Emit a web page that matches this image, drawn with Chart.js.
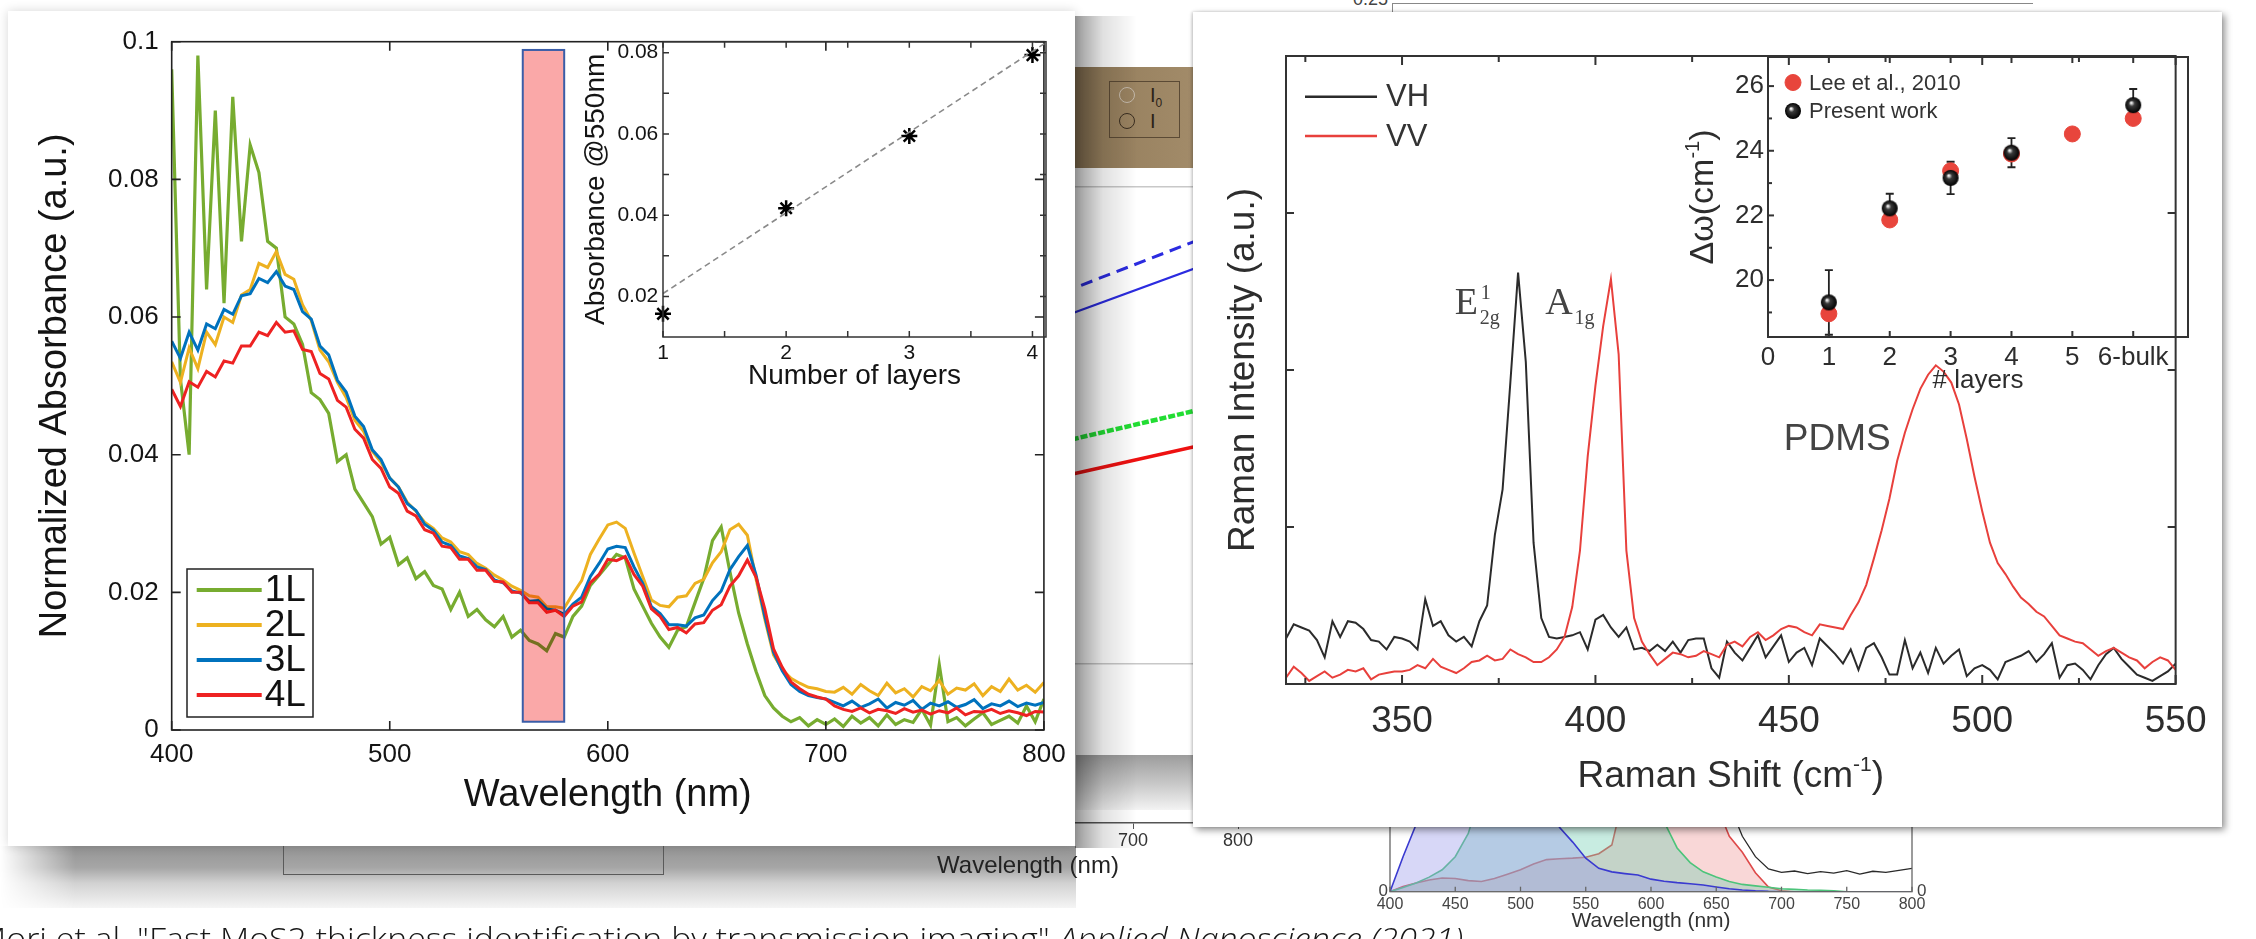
<!DOCTYPE html>
<html>
<head>
<meta charset="utf-8">
<title>MoS2 absorbance and Raman</title>
<script src="https://cdn.jsdelivr.net/npm/chart.js"></script>
<style>
  html, body { margin: 0; padding: 0; background: #fff; }
  #page { position: relative; width: 2256px; height: 939px; overflow: hidden; background: #fff;
          font-family: 'Liberation Sans', Arial, sans-serif; }
  canvas { position: absolute; }
  .abs { position: absolute; }
  #chartA { left: 700px; top: 150px; z-index: 2; }
  #chartB { left: 1300px; top: 560px; z-index: 2; }
  #brown { left: 990px; top: 67px; width: 203px; height: 101px; z-index: 2;
           background: linear-gradient(to right, #86704f, #a28b69); }
  #ioBox { position: absolute; left: 119px; top: 14px; width: 69px; height: 55px; border: 1.5px solid #5b4a35; }
  .ring { position: absolute; left: 9px; width: 14px; height: 14px; border-radius: 50%; }
  .io { position: absolute; left: 40px; font-size: 20px; line-height: 20px; color: #2b2218; }
  #gapBand { left: 1076px; top: 755px; width: 117px; height: 55px; z-index: 2;
             background: linear-gradient(to bottom, #9c9c9c, #c6c6c6 50%, #f3f3f3); }
  #topTick { left: 1342px; top: -11px; width: 46px; text-align: right; font-size: 18px; color: #444; z-index: 1; }
  #topFrame { left: 1392px; top: 3px; width: 640px; height: 30px; border-top: 1.5px solid #888;
              border-left: 1.5px solid #888; z-index: 1; }
  #leftBand { left: 0; top: 846px; width: 1076px; height: 62px; z-index: 1;
              background: linear-gradient(to bottom, #949494 0%, #a6a6a6 35%, #d2d2d2 60%, #f5f5f5 100%);
              -webkit-mask-image: linear-gradient(to right, transparent 0, #000 75px);
              mask-image: linear-gradient(to right, transparent 0, #000 75px); }
  #bracket { left: 283px; top: 846px; width: 379px; height: 28px; z-index: 2;
             border: 1.5px solid #5a5a5a; border-top: none; }
  #leftShadow { left: 1075px; top: 16px; width: 62px; height: 832px; z-index: 3;
                background: linear-gradient(to right, rgba(0,0,0,0.40), rgba(0,0,0,0.12) 45%, rgba(0,0,0,0)); }
  #leftCard { left: 8px; top: 11px; width: 1067px; height: 835px; background: #fff; z-index: 4;
              box-shadow: 0 0 10px rgba(0,0,0,0.16); }
  #rightCard { left: 1193px; top: 12px; width: 1029px; height: 815px; background: #fff; z-index: 4;
               box-shadow: 3px 3px 7px rgba(0,0,0,0.42), -1px 0 3px rgba(0,0,0,0.2); }
  #absChart { left: 0; top: 0; }
  #insetChart { left: 552px; top: 9px; }
  #ramanChart { left: 0; top: 0; }
  #layerChart { left: 447px; top: 18px; }
  #caption { left: -23px; top: 922px; z-index: 5; font-family: 'Open Sans', 'Lato', sans-serif; font-weight: 300;
             font-size: 32px; line-height: 1; white-space: nowrap; color: #161616; transform-origin: 0 0; }
</style>
</head>
<body>
<div id="page">
  <div id="topTick" class="abs">0.25</div>
  <div id="topFrame" class="abs"></div>
  <div id="leftBand" class="abs"></div>
  <div id="bracket" class="abs"></div>
  <canvas id="chartA" width="600" height="740"></canvas>
  <div id="brown" class="abs">
    <div id="ioBox">
      <span class="ring" style="top:5px;border:1.5px solid #c4b9aa"></span>
      <span class="io" style="top:3px">I<sub style="font-size:12px">0</sub></span>
      <span class="ring" style="top:31px;border:1.5px solid #3a2e20"></span>
      <span class="io" style="top:29px">I</span>
    </div>
  </div>
  <div id="gapBand" class="abs"></div>
  <canvas id="chartB" width="680" height="379"></canvas>
  <div id="leftShadow" class="abs"></div>
  <div id="leftCard" class="abs">
    <canvas id="absChart" width="1067" height="835"></canvas>
    <canvas id="insetChart" width="520" height="390"></canvas>
  </div>
  <div id="rightCard" class="abs">
    <canvas id="ramanChart" width="1029" height="815"></canvas>
    <canvas id="layerChart" width="580" height="380"></canvas>
  </div>
  <div id="caption" class="abs">Mori et al. "Fast MoS2 thickness identification by transmission imaging" <i>Applied Nanoscience (2021)</i></div>
</div>
<script>
// ---------- absorbance spectra (left panel) ----------
const wavelength = [
  400,404,408,412,416,420,424,428,432,436,
  440,444,448,452,456,460,464,468,472,476,
  480,484,488,492,496,500,504,508,512,516,
  520,524,528,532,536,540,544,548,552,556,
  560,564,568,572,576,580,584,588,592,596,
  600,604,608,612,616,620,624,628,632,636,
  640,644,648,652,656,660,664,668,672,676,
  680,684,688,692,696,700,704,708,712,716,
  720,724,728,732,736,740,744,748,752,756,
  760,764,768,772,776,780,784,788,792,796,
  800];
const abs1L = [
  .096,.051,.040,.098,.064,.090,.062,.092,.071,.085,
  .081,.071,.070,.060,.059,.056,.049,.048,.046,.039,
  .040,.035,.033,.031,.027,.028,.024,.025,.022,.023,
  .021,.0205,.0175,.020,.0165,.0175,.016,.015,.0165,.0135,
  .0145,.013,.0125,.0115,.014,.0135,.0165,.018,.021,.0225,
  .024,.0255,.025,.0205,.018,.0155,.0135,.012,.0145,.015,
  .0185,.022,.0275,.0295,.023,.017,.0125,.0085,.005,.0032,
  .002,.0012,.0018,.0006,.0015,.0008,.0016,.0005,.002,.001,
  .0018,.0006,.0022,.0008,.0015,.0011,.003,.0007,.0095,.0012,
  .0018,.0006,.0016,.0025,.0008,.0014,.002,.001,.0035,.0012,
  .0045];
const abs2L = [
  .0535,.0505,.0555,.0525,.0578,.0560,.0600,.0592,.0632,.0640,
  .0678,.0672,.0695,.0662,.0655,.0618,.0595,.0552,.0535,.0505,
  .0483,.0450,.0434,.0405,.0389,.0366,.0353,.0331,.0318,.0302,
  .0293,.0279,.0273,.0259,.0255,.0242,.0235,.0225,.0218,.0209,
  .0203,.0195,.0193,.0179,.0179,.0177,.0198,.0217,.0255,.0277,
  .0298,.0302,.0293,.0257,.0223,.0189,.0181,.0179,.0193,.0195,
  .0213,.0219,.0243,.0259,.0291,.0299,.0283,.0219,.0161,.0109,
  .0088,.0075,.0068,.0062,.0060,.0056,.0055,.0062,.0052,.0066,
  .0057,.0050,.0068,.0054,.0060,.0048,.0063,.0057,.0072,.0052,
  .0061,.0058,.0067,.0050,.0063,.0056,.0074,.0058,.0065,.0055,
  .0069];
const abs3L = [
  .0565,.0540,.0578,.0552,.0590,.0583,.0611,.0604,.0631,.0634,
  .0656,.0650,.0666,.0645,.0640,.0608,.0597,.0558,.0545,.0508,
  .0491,.0456,.0441,.0407,.0393,.0366,.0353,.0329,.0319,.0299,
  .0290,.0273,.0268,.0253,.0249,.0237,.0233,.0218,.0214,.0202,
  .0199,.0187,.0188,.0176,.0174,.0168,.0183,.0193,.0223,.0242,
  .0263,.0267,.0265,.0237,.0213,.0179,.0169,.0153,.0153,.0151,
  .0163,.0167,.0188,.0202,.0233,.0252,.0268,.0225,.0165,.0113,
  .0086,.0066,.0056,.0050,.0047,.0045,.0040,.0035,.0042,.0033,
  .0038,.0045,.0032,.0040,.0036,.0043,.0030,.0039,.0035,.0041,
  .0033,.0037,.0044,.0031,.0038,.0035,.0042,.0034,.0039,.0036,
  .0040];
const abs4L = [
  .0495,.0470,.0506,.0498,.0521,.0513,.0536,.0533,.0558,.0558,
  .0578,.0573,.0592,.0578,.0580,.0553,.0550,.0518,.0510,.0479,
  .0469,.0437,.0424,.0393,.0380,.0353,.0344,.0318,.0311,.0291,
  .0286,.0267,.0265,.0248,.0248,.0232,.0232,.0216,.0215,.0200,
  .0200,.0185,.0185,.0171,.0174,.0165,.0180,.0186,.0214,.0226,
  .0248,.0246,.0252,.0226,.0209,.0176,.0165,.0146,.0149,.0141,
  .0154,.0156,.0174,.0182,.0209,.0224,.0247,.0222,.0176,.0118,
  .0091,.0070,.0060,.0052,.0048,.0045,.0035,.0030,.0027,.0032,
  .0025,.0030,.0028,.0024,.0031,.0026,.0029,.0023,.0028,.0025,
  .0032,.0022,.0027,.0026,.0030,.0024,.0028,.0025,.0021,.0027,
  .0026];
const absXTicks = [400, 500, 600, 700, 800];
const absYTicks = [0, 0.02, 0.04, 0.06, 0.08, 0.1];
const bandRange = [561, 580];          // highlighted 550 nm window
const bandLevels = [0.0012, 0.0988];

// inset: absorbance at 550 nm vs layers
const layerCount = [1, 2, 3, 4];
const abs550 = [0.0157, 0.0417, 0.0595, 0.0794];
const fitX = [1, 4.11];
const fitY = [0.0207, 0.0825];
const insetXTicks = [1, 1.5, 2, 2.5, 3, 3.5, 4];
const insetYTicks = [0.02, 0.03, 0.04, 0.05, 0.06, 0.07, 0.08];

// ---------- Raman spectra (right panel) ----------
const ramanShift = [
  320,322,324,326,328,330,332,334,336,338,
  340,342,344,346,348,350,352,354,356,358,
  360,362,364,366,368,370,372,374,376,378,
  380,382,384,386,388,390,392,394,396,398,
  400,402,404,406,408,410,412,414,416,418,
  420,422,424,426,428,430,432,434,436,438,
  440,442,444,446,448,450,452,454,456,458,
  460,462,464,466,468,470,472,474,476,478,
  480,482,484,486,488,490,492,494,496,498,
  500,502,504,506,508,510,512,514,516,518,
  520,522,524,526,528,530,532,534,536,538,
  540,542,544,546,548,550];
const ramanVH = [
  0.29,0.38,0.36,0.34,0.28,0.17,0.40,0.30,0.40,0.39,
  0.35,0.28,0.27,0.22,0.30,0.29,0.27,0.22,0.54,0.37,
  0.40,0.31,0.27,0.30,0.24,0.40,0.50,0.95,1.24,1.92,
  2.62,2.05,0.90,0.42,0.30,0.29,0.30,0.31,0.33,0.22,
  0.41,0.44,0.36,0.30,0.36,0.22,0.23,0.21,0.25,0.21,
  0.27,0.20,0.28,0.29,0.29,0.10,0.04,0.27,0.20,0.15,
  0.23,0.31,0.17,0.24,0.31,0.14,0.20,0.23,0.12,0.29,
  0.24,0.19,0.13,0.22,0.09,0.23,0.26,0.17,0.06,0.06,
  0.28,0.10,0.20,0.07,0.23,0.13,0.18,0.22,0.05,0.10,
  0.12,0.09,0.03,0.14,0.16,0.18,0.21,0.14,0.19,0.26,
  0.04,0.12,0.13,0.09,0.03,0.12,0.19,0.23,0.16,0.11,
  0.06,0.04,0.02,0.05,0.08,0.13];
const ramanVV = [
  0.04,0.11,0.07,0.02,0.05,0.08,0.04,0.06,0.09,0.08,
  0.10,0.03,0.06,0.07,0.08,0.08,0.09,0.12,0.10,0.16,
  0.11,0.09,0.07,0.10,0.14,0.15,0.18,0.15,0.16,0.22,
  0.19,0.17,0.14,0.14,0.17,0.22,0.30,0.49,0.85,1.45,
  1.90,2.28,2.58,2.10,0.85,0.42,0.27,0.19,0.12,0.16,
  0.20,0.19,0.17,0.18,0.21,0.19,0.17,0.25,0.27,0.24,
  0.30,0.33,0.28,0.31,0.35,0.37,0.36,0.33,0.31,0.38,
  0.37,0.36,0.35,0.44,0.52,0.63,0.80,0.98,1.18,1.42,
  1.60,1.75,1.88,1.97,2.03,1.99,1.92,1.78,1.56,1.32,
  1.10,0.90,0.77,0.70,0.62,0.55,0.51,0.46,0.43,0.37,
  0.31,0.29,0.27,0.26,0.22,0.18,0.21,0.23,0.20,0.17,
  0.15,0.10,0.14,0.17,0.15,0.09];
const ramanXTicks = [325,350,375,400,425,450,475,500,525,550];
const ramanYTicks = [0, 1, 2, 3, 4];

// inset: peak separation vs number of layers
const leeLayers = [1, 2, 3, 4, 5, 6];
const leeShift = [18.96, 21.86, 23.38, 23.90, 24.52, 25.00];
const ownLayers = [1, 2, 3, 4, 6];
const ownShift = [19.31, 22.22, 23.16, 23.94, 25.41];
const ownErr = [1.0, 0.45, 0.5, 0.45, 0.5];
const layerXTicks = [0, 1, 2, 3, 4, 5, 6];
const layerXLabels = ['0', '1', '2', '3', '4', '5', '6-bulk'];
const layerYTicks = [19, 20, 21, 22, 23, 24, 25, 26];

// ---------- background figures peeking between the panels ----------
const bgLambda = [600, 800];
const bgBlueDash = [0.813, 0.941];
const bgBlue = [0.776, 0.897];
const bgGreenDash = [0.587, 0.664];
const bgRed = [0.533, 0.607];
const bgXTicks = [400, 500, 600, 700, 800];
const bgGridLevels = [0.25, 1];

const specLambda = [
  400,410,420,430,440,450,460,470,480,490,
  500,510,520,530,540,550,560,570,580,590,
  600,610,620,630,640,650,660,670,680,690,
  700,710,720,730,740,750,760,770,780,790,800];
const specBlue = [
  0,0.12,0.23,0.40,0.60,0.80,0.90,0.95,0.90,0.80,
  0.62,0.45,0.30,0.22,0.17,0.115,0.08,0.068,0.062,0.057,
  0.043,0.036,0.031,0.027,0.023,0.016,0.010,0.006,0.003,0.001,
  0,0,0,0,0,0,0,0,0,0,0];
const specGreen = [
  0,0.014,0.03,0.05,0.075,0.12,0.20,0.35,0.55,0.75,
  0.90,0.98,1.0,0.97,0.90,0.80,0.65,0.50,0.40,0.33,
  0.28,0.24,0.15,0.10,0.068,0.05,0.035,0.025,0.02,0.015,
  0.01,0.008,0.006,0.005,0.003,0,0,0,0,0,0];
const specRed = [
  0,0.018,0.03,0.04,0.047,0.045,0.038,0.035,0.045,0.06,
  0.075,0.095,0.11,0.113,0.115,0.118,0.13,0.16,0.35,0.55,
  0.70,0.80,0.82,0.75,0.55,0.30,0.19,0.135,0.065,0.016,
  0.003,0,0,0,0,0,0,0,0,0,0];
const specLamp = [
  0.55,0.60,0.62,0.65,0.66,0.68,0.70,0.70,0.72,0.72,
  0.74,0.75,0.76,0.78,0.78,0.80,0.80,0.82,0.80,0.78,
  0.70,0.65,0.58,0.52,0.45,0.38,0.30,0.19,0.12,0.078,
  0.066,0.071,0.062,0.069,0.064,0.072,0.060,0.070,0.066,0.073,0.080];
const specXTicks = [400,450,500,550,600,650,700,750,800];

// ---------- setup ----------
const SANS = "'Liberation Sans', 'DejaVu Sans', Arial, sans-serif";
const SERIF = "'Liberation Serif', 'DejaVu Serif', serif";
Chart.defaults.font.family = SANS;
Chart.defaults.color = '#141414';
Chart.defaults.animation = false;
Chart.defaults.responsive = false;
Chart.defaults.devicePixelRatio = 1;
Chart.defaults.plugins.legend.display = false;
Chart.defaults.plugins.tooltip.enabled = false;
Chart.defaults.elements.point.radius = 0;
Chart.defaults.elements.line.tension = 0;

const pts = (xs, ys) => xs.map((x, i) => ({x: x, y: ys[i]}));
const fixTicks = vals => s => { s.ticks = vals.map(v => ({value: v})); };
const quiet = {display: false, drawTicks: false};

// box around the plot with inward tick marks (MATLAB style)
const framePlugin = {
  id: 'frame',
  afterDraw(chart, args, o) {
    if (!o || !o.ticks) return;
    const ctx = chart.ctx, a = chart.chartArea;
    ctx.save();
    ctx.strokeStyle = o.color || '#222';
    ctx.lineWidth = o.width || 1.5;
    Object.keys(o.ticks).forEach(id => {
      const s = chart.scales[id], t = o.ticks[id];
      s.ticks.forEach(tk => {
        const big = tk.label !== '' && tk.label != null;
        const len = big ? t.major : t.minor;
        const p = s.getPixelForValue(tk.value);
        ctx.beginPath();
        if (s.isHorizontal()) {
          ctx.moveTo(p, a.bottom); ctx.lineTo(p, a.bottom - len);
          if (t.mirror) { ctx.moveTo(p, a.top); ctx.lineTo(p, a.top + len); }
        } else {
          ctx.moveTo(a.left, p); ctx.lineTo(a.left + len, p);
          if (t.mirror) { ctx.moveTo(a.right, p); ctx.lineTo(a.right - len, p); }
        }
        ctx.stroke();
      });
    });
    if (o.box !== false) ctx.strokeRect(a.left, a.top, a.right - a.left, a.bottom - a.top);
    ctx.restore();
  }
};

// axis titles that need a real superscript, e.g. cm^-1
const supTitlePlugin = {
  id: 'supTitle',
  afterDraw(chart, args, o) {
    if (!o || !o.items) return;
    const ctx = chart.ctx, a = chart.chartArea;
    o.items.forEach(it => {
      const s = chart.scales[it.scale];
      let cx, cy, rot = 0;
      if (s.isHorizontal()) { cx = (a.left + a.right) / 2; cy = s.bottom - it.offset; }
      else { cx = s.left + it.offset; cy = (a.top + a.bottom) / 2; rot = -Math.PI / 2; }
      const big = it.size + 'px ' + SANS, small = Math.round(it.size * 0.58) + 'px ' + SANS;
      ctx.save();
      ctx.translate(cx, cy); ctx.rotate(rot);
      let w = 0;
      it.runs.forEach(r => { ctx.font = r.sup ? small : big; w += ctx.measureText(r.t).width; });
      let x = -w / 2;
      ctx.fillStyle = it.color; ctx.textBaseline = 'middle';
      it.runs.forEach(r => {
        ctx.font = r.sup ? small : big;
        ctx.fillText(r.t, x, r.sup ? -it.size * 0.3 : 0);
        x += ctx.measureText(r.t).width;
      });
      ctx.restore();
    });
  }
};

// translucent pink window drawn over the spectra
const bandPlugin = {
  id: 'band',
  afterDatasetsDraw(chart, args, o) {
    if (!o || !o.range) return;
    const ctx = chart.ctx, xs = chart.scales.x, ys = chart.scales.y;
    const x0 = xs.getPixelForValue(o.range[0]), x1 = xs.getPixelForValue(o.range[1]);
    const y0 = ys.getPixelForValue(o.levels[1]), y1 = ys.getPixelForValue(o.levels[0]);
    ctx.save();
    ctx.globalCompositeOperation = 'multiply';
    ctx.fillStyle = o.fill;
    ctx.fillRect(x0, y0, x1 - x0, y1 - y0);
    ctx.globalCompositeOperation = 'source-over';
    ctx.strokeStyle = o.border; ctx.lineWidth = 2;
    ctx.strokeRect(x0, y0, x1 - x0, y1 - y0);
    ctx.restore();
  }
};

// line-sample legend placed inside the plot
const lineKeyPlugin = {
  id: 'lineKey',
  afterDraw(chart, args, o) {
    if (!o || !o.rowY) return;
    const ctx = chart.ctx, a = chart.chartArea;
    ctx.save();
    if (o.box) {
      ctx.fillStyle = '#fff';
      ctx.fillRect(a.left + o.box[0], a.top + o.box[1], o.box[2], o.box[3]);
      ctx.strokeStyle = '#222'; ctx.lineWidth = 1.5;
      ctx.strokeRect(a.left + o.box[0], a.top + o.box[1], o.box[2], o.box[3]);
    }
    ctx.font = o.size + 'px ' + SANS;
    ctx.textBaseline = 'middle';
    chart.data.datasets.forEach((d, i) => {
      const y = a.top + o.rowY + i * o.rowGap;
      ctx.strokeStyle = d.borderColor; ctx.lineWidth = o.lineWidth;
      ctx.beginPath(); ctx.moveTo(a.left + o.lineX[0], y); ctx.lineTo(a.left + o.lineX[1], y); ctx.stroke();
      ctx.fillStyle = o.textColor;
      ctx.fillText(d.label, a.left + o.textX, y + 1);
    });
    ctx.restore();
  }
};

// marker legend (inset of the right panel)
const markKeyPlugin = {
  id: 'markKey',
  afterDraw(chart, args, o) {
    if (!o || !o.rowY) return;
    const ctx = chart.ctx, a = chart.chartArea;
    ctx.save();
    ctx.font = o.size + 'px ' + SANS;
    ctx.textBaseline = 'middle';
    chart.data.datasets.forEach((d, i) => {
      const y = a.top + o.rowY + i * o.rowGap;
      ctx.fillStyle = d.backgroundColor; ctx.strokeStyle = d.borderColor;
      Chart.helpers.drawPoint(ctx, {pointStyle: d.pointStyle, radius: d.pointRadius, borderWidth: 1, rotation: 0},
                              a.left + o.markX, y);
      ctx.fillStyle = o.textColor;
      ctx.fillText(d.label, a.left + o.textX, y + 1);
    });
    ctx.restore();
  }
};

const errorPlugin = {
  id: 'errorBars',
  beforeDatasetsDraw(chart, args, o) {
    if (!o || !o.err) return;
    const ctx = chart.ctx, xs = chart.scales.x, ys = chart.scales.y;
    const d = chart.data.datasets[o.dataset];
    ctx.save(); ctx.strokeStyle = o.color; ctx.lineWidth = 1.8;
    d.data.forEach((p, i) => {
      const x = xs.getPixelForValue(p.x);
      const lo = ys.getPixelForValue(p.y - o.err[i]), hi = ys.getPixelForValue(p.y + o.err[i]);
      ctx.beginPath();
      ctx.moveTo(x, lo); ctx.lineTo(x, hi);
      ctx.moveTo(x - 4, lo); ctx.lineTo(x + 4, lo);
      ctx.moveTo(x - 4, hi); ctx.lineTo(x + 4, hi);
      ctx.stroke();
    });
    ctx.restore();
  }
};

// peak names written at data coordinates
const peakTextPlugin = {
  id: 'peakText',
  afterDatasetsDraw(chart, args, o) {
    if (!o || !o.items) return;
    const ctx = chart.ctx, xs = chart.scales.x, ys = chart.scales.y;
    ctx.save(); ctx.fillStyle = o.color; ctx.textBaseline = 'alphabetic';
    o.items.forEach(it => {
      let x = xs.getPixelForValue(it.x);
      const y = ys.getPixelForValue(it.y);
      ctx.font = it.font;
      ctx.fillText(it.main, x, y);
      x += ctx.measureText(it.main).width + 2;
      ctx.font = o.smallFont;
      if (it.sup) ctx.fillText(it.sup, x + 1, y - 15);
      if (it.sub) ctx.fillText(it.sub, x, y + 10);
    });
    ctx.restore();
  }
};

function sphere(r) {
  const c = document.createElement('canvas');
  c.width = c.height = 2 * r + 2;
  const g = c.getContext('2d');
  const grad = g.createRadialGradient(r + 1 - r * 0.25, r + 1 - r * 0.3, r * 0.08, r + 1, r + 1, r);
  grad.addColorStop(0, '#f2f2f2'); grad.addColorStop(0.3, '#3a3a3a'); grad.addColorStop(1, '#000');
  g.fillStyle = grad;
  g.beginPath(); g.arc(r + 1, r + 1, r, 0, Math.PI * 2); g.fill();
  return c;
}

// ---------- left panel: absorbance ----------
new Chart(document.getElementById('absChart'), {
  type: 'line',
  data: {datasets: [
    {label: '1L', data: pts(wavelength, abs1L), borderColor: '#77AC30', borderWidth: 3.2, order: 3},
    {label: '2L', data: pts(wavelength, abs2L), borderColor: '#EDB120', borderWidth: 3, order: 2},
    {label: '3L', data: pts(wavelength, abs3L), borderColor: '#0072BD', borderWidth: 3, order: 1},
    {label: '4L', data: pts(wavelength, abs4L), borderColor: '#EE2222', borderWidth: 3, order: 0}
  ]},
  options: {
    layout: {padding: {left: 0, right: 30, top: 30.7, bottom: 0}},
    scales: {
      x: {type: 'linear', min: 400, max: 800, afterBuildTicks: fixTicks(absXTicks),
          afterFit: s => { s.height = 116; }, grid: quiet, border: {display: false},
          ticks: {font: {size: 26}, padding: 9.4, autoSkip: false, maxRotation: 0, callback: v => String(v)},
          title: {display: true, text: 'Wavelength (nm)', font: {size: 38}, padding: {top: 0, bottom: 27.2}}},
      y: {type: 'linear', min: 0, max: 0.1, afterBuildTicks: fixTicks(absYTicks),
          afterFit: s => { s.width = 163.7; }, grid: quiet, border: {display: false},
          ticks: {font: {size: 26}, padding: 13, autoSkip: false,
                  callback: v => v === 0 ? '0' : (Math.abs(v - 0.1) < 1e-9 ? '0.1' : v.toFixed(2))},
          title: {display: true, text: 'Normalized Absorbance (a.u.)', font: {size: 38}, padding: {top: 25.2, bottom: 0}}}
    },
    plugins: {
      frame: {color: '#222', width: 1.6, ticks: {x: {major: 9, minor: 5, mirror: true}, y: {major: 9, minor: 5, mirror: true}}},
      band: {range: bandRange, levels: bandLevels, fill: 'rgb(250,168,168)', border: '#3A5DA8'},
      lineKey: {box: [15.3, 527.3, 126, 148], rowY: 548.3, rowGap: 35, lineX: [25, 90], lineWidth: 4,
                textX: 93, size: 37, textColor: '#111'}
    }
  },
  plugins: [bandPlugin, framePlugin, lineKeyPlugin]
});

new Chart(document.getElementById('insetChart'), {
  type: 'line',
  data: {datasets: [
    {data: pts(fitX, fitY), borderColor: '#8a8a8a', borderWidth: 1.6, borderDash: [6, 4], pointRadius: 0},
    {data: pts(layerCount, abs550), showLine: false, pointStyle: 'star', pointRadius: 8, clip: false,
     borderColor: '#000', backgroundColor: '#000', borderWidth: 2.5}
  ]},
  options: {
    layout: {padding: {left: 0, right: 34, top: 21.7, bottom: 0}},
    scales: {
      x: {type: 'linear', min: 1, max: 4.11, afterBuildTicks: fixTicks(insetXTicks),
          afterFit: s => { s.height = 73; }, grid: quiet, border: {display: false},
          ticks: {font: {size: 21}, padding: 3.4, autoSkip: false, maxRotation: 0,
                  callback: v => Number.isInteger(v) ? String(v) : ''},
          title: {display: true, text: 'Number of layers', font: {size: 28}, padding: {top: 0, bottom: 16.5}}},
      y: {type: 'linear', min: 0.01, max: 0.0827, afterBuildTicks: fixTicks(insetYTicks),
          afterFit: s => { s.width = 103; }, grid: quiet, border: {display: false},
          ticks: {font: {size: 21}, padding: 4.7, autoSkip: false,
                  callback: v => Math.round(v * 100) % 2 === 0 ? v.toFixed(2) : ''},
          title: {display: true, text: 'Absorbance @550nm', font: {size: 28}, padding: {top: 19.2, bottom: 0}}}
    },
    plugins: {frame: {color: '#333', width: 1.5, ticks: {x: {major: 6, minor: 6, mirror: true}, y: {major: 6, minor: 6, mirror: true}}}}
  },
  plugins: [framePlugin]
});

// ---------- right panel: Raman ----------
new Chart(document.getElementById('ramanChart'), {
  type: 'line',
  data: {datasets: [
    {label: 'VH', data: pts(ramanShift, ramanVH), borderColor: '#2b2b2b', borderWidth: 2, order: 1},
    {label: 'VV', data: pts(ramanShift, ramanVV), borderColor: '#E8403C', borderWidth: 2, order: 0}
  ]},
  options: {
    layout: {padding: {left: 0, right: 36, top: 44, bottom: 0}},
    scales: {
      x: {type: 'linear', min: 320, max: 550, afterBuildTicks: fixTicks(ramanXTicks),
          afterFit: s => { s.height = 143; }, grid: quiet, border: {display: false},
          ticks: {font: {size: 37}, color: '#2d2d2d', padding: 15.5, autoSkip: false, maxRotation: 0,
                  callback: v => v % 50 === 0 ? String(v) : ''},
          title: {display: false}},
      y: {type: 'linear', min: 0, max: 4, afterBuildTicks: fixTicks(ramanYTicks),
          afterFit: s => { s.width = 93; }, grid: quiet, border: {display: false},
          ticks: {font: {size: 12}, padding: 0, callback: () => ''},
          title: {display: true, text: 'Raman Intensity (a.u.)', color: '#2d2d2d', font: {size: 37}, padding: {top: 28.3, bottom: 0}}}
    },
    plugins: {
      frame: {color: '#333', width: 2, ticks: {x: {major: 9, minor: 6, mirror: true}, y: {major: 8, minor: 8, mirror: true}}},
      supTitle: {items: [{scale: 'x', offset: 50.3, size: 37, color: '#2d2d2d',
                          runs: [{t: 'Raman Shift (cm'}, {t: '-1', sup: true}, {t: ')'}]}]},
      lineKey: {rowY: 40.7, rowGap: 39.3, lineX: [19, 91], lineWidth: 2.5, textX: 100, size: 31, textColor: '#333'},
      peakText: {color: '#444', smallFont: '20px ' + SERIF, items: [
        {x: 363.6, y: 2.354, main: 'E', sup: '1', sub: '2g', font: '38px ' + SERIF},
        {x: 387.0, y: 2.354, main: 'A', sub: '1g', font: '38px ' + SERIF},
        {x: 448.7, y: 1.49, main: 'PDMS', font: '37px ' + SANS}
      ]}
    }
  },
  plugins: [framePlugin, supTitlePlugin, lineKeyPlugin, peakTextPlugin]
});

new Chart(document.getElementById('layerChart'), {
  type: 'line',
  data: {datasets: [
    {label: 'Lee et al., 2010', data: pts(leeLayers, leeShift), showLine: false, pointStyle: 'circle',
     pointRadius: 8, backgroundColor: '#E8453C', borderColor: '#E8453C', order: 1},
    {label: 'Present work', data: pts(ownLayers, ownShift), showLine: false, pointStyle: sphere(8),
     pointRadius: 8, backgroundColor: '#000', borderColor: '#000', order: 0}
  ]},
  options: {
    layout: {padding: {left: 0, right: 32, top: 27, bottom: 0}},
    scales: {
      x: {type: 'linear', min: 0, max: 6.9, afterBuildTicks: fixTicks(layerXTicks),
          afterFit: s => { s.height = 73; }, grid: quiet, border: {display: false},
          ticks: {font: {size: 26}, color: '#2d2d2d', padding: 4.9, autoSkip: false, maxRotation: 0,
                  callback: (v, i) => layerXLabels[i]},
          title: {display: true, text: '# layers', color: '#2d2d2d', font: {size: 26}, padding: {top: 0, bottom: 13.7}}},
      y: {type: 'linear', min: 18.24, max: 26.9, afterBuildTicks: fixTicks(layerYTicks),
          afterFit: s => { s.width = 128; }, grid: quiet, border: {display: false},
          ticks: {font: {size: 26}, color: '#2d2d2d', padding: 4, autoSkip: false,
                  callback: v => v % 2 === 0 ? String(v) : ''},
          title: {display: false}}
    },
    plugins: {
      frame: {color: '#333', width: 2, ticks: {x: {major: 6, minor: 4, mirror: true}, y: {major: 6, minor: 4, mirror: false}}},
      supTitle: {items: [{scale: 'y', offset: 63.6, size: 34, color: '#2d2d2d',
                          runs: [{t: 'Δω(cm'}, {t: '-1', sup: true}, {t: ')'}]}]},
      errorBars: {dataset: 1, err: ownErr, color: '#222'},
      markKey: {rowY: 25.5, rowGap: 28.5, markX: 25, textX: 41, size: 22, textColor: '#333'}
    }
  },
  plugins: [framePlugin, supTitlePlugin, errorPlugin, markKeyPlugin]
});

// ---------- background figures ----------
new Chart(document.getElementById('chartA'), {
  type: 'line',
  data: {datasets: [
    {data: pts(bgLambda, bgBlueDash), borderColor: '#2B2BE0', borderWidth: 3, borderDash: [12, 7]},
    {data: pts(bgLambda, bgBlue), borderColor: '#2B2BE0', borderWidth: 2.2},
    {data: pts(bgLambda, bgGreenDash), borderColor: '#22DD33', borderWidth: 4.5, borderDash: [7, 2]},
    {data: pts(bgLambda, bgRed), borderColor: '#EE1111', borderWidth: 3.5}
  ]},
  options: {
    layout: {padding: {left: 118, right: 62, top: 37, bottom: 0}},
    scales: {
      x: {type: 'linear', min: 400, max: 800, afterBuildTicks: fixTicks(bgXTicks),
          afterFit: s => { s.height = 67; },
          grid: {display: true, drawOnChartArea: false, drawTicks: true, tickLength: 6, color: '#555'},
          border: {display: true, color: '#555', width: 1.5},
          ticks: {font: {size: 18}, color: '#333', padding: 1, autoSkip: false, maxRotation: 0},
          title: {display: true, text: 'Wavelength (nm)', color: '#222', font: {size: 24}, padding: {top: 0, bottom: 9.6}}},
      y: {type: 'linear', min: 0, max: 1, afterBuildTicks: fixTicks(bgGridLevels),
          afterFit: s => { s.width = 0; },
          grid: {display: true, drawTicks: false, color: '#c8c8c8', lineWidth: 1.5},
          border: {display: false}, ticks: {display: false}}
    }
  }
});

new Chart(document.getElementById('chartB'), {
  type: 'line',
  data: {datasets: [
    {data: pts(specLambda, specBlue), borderColor: '#3a3ad0', borderWidth: 1.6, fill: 'origin',
     backgroundColor: 'rgba(150,150,235,0.38)'},
    {data: pts(specLambda, specGreen), borderColor: '#4cc47a', borderWidth: 1.6, fill: 'origin',
     backgroundColor: 'rgba(110,205,175,0.38)'},
    {data: pts(specLambda, specRed), borderColor: '#de4a4a', borderWidth: 1.6, fill: 'origin',
     backgroundColor: 'rgba(240,150,150,0.38)'},
    {data: pts(specLambda, specLamp), borderColor: '#2a2a2a', borderWidth: 1.3}
  ]},
  options: {
    layout: {padding: {left: 0, right: 0, top: 40, bottom: 0}},
    scales: {
      x: {type: 'linear', min: 400, max: 800, afterBuildTicks: fixTicks(specXTicks),
          afterFit: s => { s.height = 47.3; }, grid: quiet, border: {display: false},
          ticks: {font: {size: 16}, color: '#444', padding: 3.7, autoSkip: false, maxRotation: 0},
          title: {display: true, text: 'Wavelength (nm)', color: '#333', font: {size: 21}, padding: {top: 0, bottom: 4.7}}},
      y: {type: 'linear', min: 0, max: 1, afterBuildTicks: fixTicks([0]),
          afterFit: s => { s.width = 90; }, grid: quiet, border: {display: false},
          ticks: {font: {size: 17}, color: '#444', padding: 2}},
      y2: {type: 'linear', position: 'right', min: 0, max: 1, afterBuildTicks: fixTicks([0]),
           afterFit: s => { s.width = 68; }, grid: quiet, border: {display: false},
           ticks: {font: {size: 17}, color: '#444', padding: 5}}
    },
    plugins: {frame: {color: '#666', width: 1.3, ticks: {x: {major: 5, minor: 5, mirror: false}}}}
  },
  plugins: [framePlugin]
});

// caption spans the same width as in the slide
const cap = document.getElementById('caption');
cap.style.transform = 'scaleX(' + (1486 / cap.getBoundingClientRect().width) + ')';
</script>
</body>
</html>
